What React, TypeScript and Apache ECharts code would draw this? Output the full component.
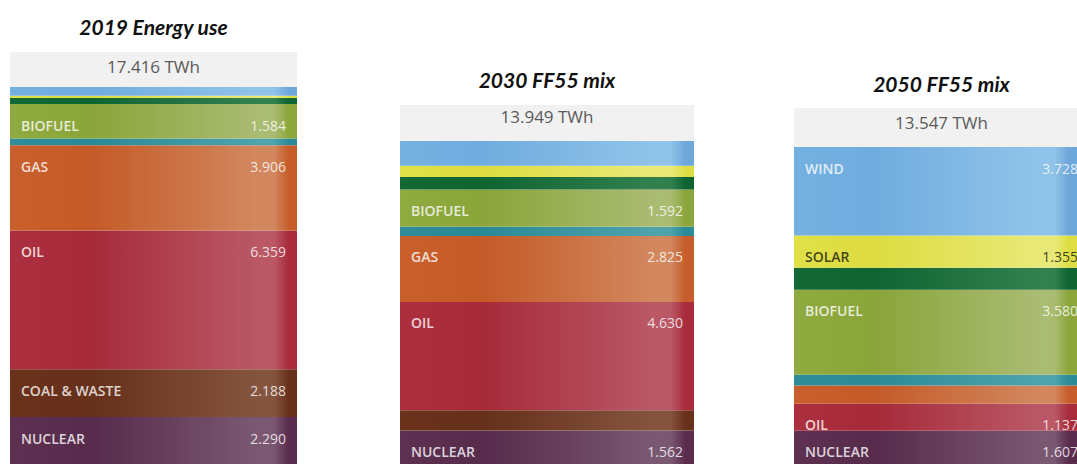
import React, { useEffect, useRef } from "react";
import * as echarts from "echarts";

// Energy mix per column, thousands of TWh (values shown with "." as thousands separator)
const categories = ["2019 Energy use", "2030 FF55 mix", "2050 FF55 mix"];
const unit = "TWh";

// stacked bottom to top
const nuclear = [2.29, 1.562, 1.607];
const coalWaste = [2.188, 0.87, 0];
const oil = [6.359, 4.63, 1.137];
const gas = [3.906, 2.825, 0.77];
const heat = [0.309, 0.39, 0.45];
const biofuel = [1.584, 1.592, 3.58];
const hydro = [0.28, 0.54, 0.92];
const solar = [0.1, 0.48, 1.355];
const wind = [0.4, 1.06, 3.728];

// segments of at least this size carry a name/value label
const LABEL_MIN = 1.1;

type Layer = {
  name: string;
  values: number[];
  labeled: boolean;
  shades: [string, string, string, string]; // left, darkest, lightest, edge
  text: string;
};

const LIGHT_TEXT = "rgba(255,255,255,0.8)";
const DARK_TEXT = "rgba(45,45,20,0.88)";

const layers: Layer[] = [
  { name: "NUCLEAR", values: nuclear, labeled: true, shades: ["#5e3153", "#572b4c", "#7a5872", "#5a2d4f"], text: LIGHT_TEXT },
  { name: "COAL & WASTE", values: coalWaste, labeled: true, shades: ["#6b321b", "#66301a", "#85543f", "#69311b"], text: LIGHT_TEXT },
  { name: "OIL", values: oil, labeled: true, shades: ["#ab2f3e", "#a62a3a", "#ba5866", "#a82c3c"], text: LIGHT_TEXT },
  { name: "GAS", values: gas, labeled: true, shades: ["#c85f2c", "#c45a28", "#d2875e", "#c65d2a"], text: LIGHT_TEXT },
  { name: "HEAT", values: heat, labeled: false, shades: ["#2e8d98", "#2a8a96", "#4ea3ad", "#2b8b96"], text: LIGHT_TEXT },
  { name: "BIOFUEL", values: biofuel, labeled: true, shades: ["#8faa3e", "#8aa53a", "#aabb72", "#8ca63c"], text: LIGHT_TEXT },
  { name: "HYDRO", values: hydro, labeled: false, shades: ["#136936", "#0f6432", "#33804f", "#0f6432"], text: LIGHT_TEXT },
  { name: "SOLAR", values: solar, labeled: true, shades: ["#e0e048", "#dcdc40", "#e9e978", "#dede44"], text: DARK_TEXT },
  { name: "WIND", values: wind, labeled: true, shades: ["#74b0e0", "#70acde", "#90c3e9", "#6ea8da"], text: LIGHT_TEXT },
];

// page layout of each column
const CANVAS_W = 1077;
const CANVAS_H = 480;
const columns = [
  { left: 10, width: 287, top: 87, bottom: 467, headTop: 52, titleY: 26, totalY: 66 },
  { left: 400, width: 294, top: 141, bottom: 467, headTop: 105, titleY: 79, totalY: 116 },
  { left: 794, width: 295, top: 147, bottom: 469, headTop: 108, titleY: 83, totalY: 122 },
];

const fmt = (v: number) => v.toFixed(3);

function shade(s: [string, string, string, string]) {
  return new echarts.graphic.LinearGradient(0, 0, 1, 0, [
    { offset: 0, color: s[0] },
    { offset: 0.28, color: s[1] },
    { offset: 0.86, color: s[2] },
    { offset: 0.92, color: s[2] },
    { offset: 0.97, color: s[3] },
    { offset: 1, color: s[3] },
  ]);
}

function buildOption(): echarts.EChartsCoreOption {
  const totals = categories.map((_, g) =>
    layers.reduce((acc, l) => acc + l.values[g], 0)
  );

  const grid = columns.map((c) => ({
    left: c.left,
    width: c.width,
    top: c.top,
    bottom: CANVAS_H - c.bottom,
    containLabel: false,
  }));

  const xAxis = categories.map((cat, g) => ({
    type: "category",
    gridIndex: g,
    data: [cat],
    show: false,
  }));

  const yAxis = categories.map((_, g) => ({
    type: "value",
    gridIndex: g,
    min: 0,
    max: totals[g],
    show: false,
  }));

  const series: any[] = [];
  columns.forEach((c, g) => {
    layers.forEach((l) => {
      const v = l.values[g];
      series.push({
        type: "bar",
        name: l.name,
        xAxisIndex: g,
        yAxisIndex: g,
        stack: "mix" + g,
        barWidth: "100%",
        silent: true,
        itemStyle: { color: shade(l.shades) },
        data: [
          {
            value: v,
            label: {
              show: l.labeled && v >= LABEL_MIN,
              position: [11, 13],
              width: c.width - 22,
              overflow: "none",
              formatter: `{n|${l.name}}{v|${fmt(v)}}`,
              rich: {
                n: {
                  align: "left",
                  fontFamily: "Open Sans",
                  fontWeight: 600,
                  fontSize: 14,
                  lineHeight: 16,
                  color: l.text,
                },
                v: {
                  align: "right",
                  fontFamily: "Open Sans",
                  fontWeight: 400,
                  fontSize: 14,
                  lineHeight: 16,
                  color: l.text,
                },
              },
            },
          },
        ],
      });
    });
  });

  const graphic: any[] = [];
  columns.forEach((c, g) => {
    graphic.push({
      type: "rect",
      silent: true,
      shape: { x: c.left, y: c.headTop, width: c.width, height: c.top - c.headTop },
      style: { fill: "#f1f1f1" },
    });
    graphic.push({
      type: "text",
      silent: true,
      x: c.left + c.width / 2,
      y: c.totalY,
      style: {
        text: `${fmt(totals[g])} ${unit}`,
        align: "center",
        verticalAlign: "middle",
        fill: "#5a5a5a",
        font: "400 17px 'Open Sans'",
      },
    });
    graphic.push({
      type: "text",
      silent: true,
      x: c.left + c.width / 2,
      y: columns[g].titleY,
      style: {
        text: categories[g],
        align: "center",
        verticalAlign: "middle",
        fill: "#111111",
        font: "italic bold 21px Lato",
      },
    });
  });

  return {
    animation: false,
    backgroundColor: "#ffffff",
    grid,
    xAxis,
    yAxis,
    series,
    graphic,
  };
}

export default function App() {
  const ref = useRef<HTMLDivElement>(null);

  useEffect(() => {
    if (!ref.current) return;
    const chart = echarts.init(ref.current, undefined, { renderer: "svg" });
    chart.setOption(buildOption());
    return () => chart.dispose();
  }, []);

  return (
    <div
      ref={ref}
      style={{
        position: "fixed",
        left: 0,
        top: 0,
        width: CANVAS_W,
        height: CANVAS_H,
      }}
    />
  );
}
